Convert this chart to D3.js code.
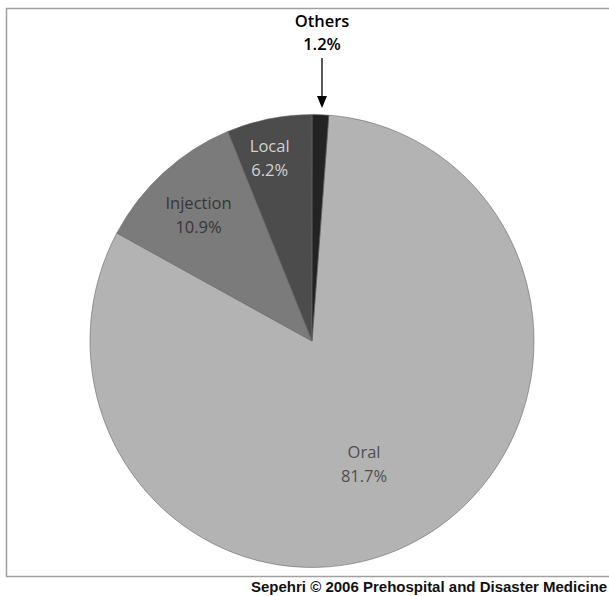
<!DOCTYPE html>
<html>
<head>
<meta charset="utf-8">
<script src="https://cdn.jsdelivr.net/npm/d3@7"></script>
<style>
  body { margin: 0; background: #fff; }
  svg { display: block; }
</style>
</head>
<body>
<div id="wrapper"></div>
<script>
// data
const categories = ["Oral", "Injection", "Local", "Others"];
const percents = [81.7, 10.9, 6.2, 1.2];
const sliceColors = ["#b3b3b3", "#7b7b7b", "#4c4c4c", "#232323"];
const labelColors = ["#4f4f4f", "#363636", "#d2d2d2", "#000000"];

function drawPie() {
  const dimensions = { width: 609, height: 596 };
  const cx = 312, cy = 341, radius = 222;

  const wrapper = d3.select("#wrapper")
    .append("svg")
    .attr("width", dimensions.width)
    .attr("height", dimensions.height);

  // outer frame (right side runs off the page)
  wrapper.append("rect")
    .attr("x", 6.5).attr("y", 8.5)
    .attr("width", 620).attr("height", 568)
    .attr("fill", "none")
    .attr("stroke", "#a0a0a0")
    .attr("stroke-width", 1.5);

  const dataset = categories.map((c, i) => ({ name: c, value: percents[i], i }));

  const start = 0.076;
  const pie = d3.pie()
    .value(d => d.value)
    .sort(null)
    .startAngle(start)
    .endAngle(start + 2 * Math.PI);

  const arcs = pie(dataset);
  const arc = d3.arc().innerRadius(0).outerRadius(radius);

  // the scanned pie is slightly taller than wide
  const bounds = wrapper.append("g")
    .attr("transform", `translate(${cx},${cy}) scale(1,1.02)`);

  bounds.selectAll("path")
    .data(arcs)
    .join("path")
    .attr("d", arc)
    .attr("fill", d => sliceColors[d.data.i])
    .attr("stroke", "#666")
    .attr("stroke-width", 0.6);

  // label anchor: fraction of radius + small angle nudge (degrees)
  const labelRadius = [0.626, 0.745, 0.82];
  const labelShift = [6.6, -1.4, -2.3];

  const labels = wrapper.append("g")
    .attr("font-family", "'Open Sans', sans-serif")
    .attr("font-size", 16.5)
    .attr("text-anchor", "middle");

  arcs.slice(0, 3).forEach(d => {
    const i = d.data.i;
    const r = radius * labelRadius[i];
    const a = (d.startAngle + d.endAngle) / 2 + labelShift[i] * Math.PI / 180;
    const x = cx + r * Math.sin(a);
    const y = cy - r * Math.cos(a);
    const t = labels.append("text").attr("fill", labelColors[i]);
    t.append("tspan").attr("x", x).attr("y", y - 12).text(d.data.name);
    t.append("tspan").attr("x", x).attr("y", y + 12).text(d3.format(".1f")(d.data.value) + "%");
  });

  // "Others" label above the pie with an arrow
  const othersX = 322;
  const other = arcs[3];
  const othersText = labels.append("text")
    .attr("fill", labelColors[3])
    .attr("font-weight", 600);
  othersText.append("tspan").attr("x", othersX).attr("y", 27).text(other.data.name);
  othersText.append("tspan").attr("x", othersX).attr("y", 50).text(d3.format(".1f")(other.data.value) + "%");

  wrapper.append("line")
    .attr("x1", othersX).attr("x2", othersX)
    .attr("y1", 58).attr("y2", 98)
    .attr("stroke", "#000")
    .attr("stroke-width", 1.3);
  wrapper.append("path")
    .attr("d", `M${othersX - 5},96 L${othersX + 5},96 L${othersX},108 Z`)
    .attr("fill", "#000");

  // source line
  wrapper.append("text")
    .attr("x", 251)
    .attr("y", 592)
    .attr("font-family", "'Liberation Sans', Arial, sans-serif")
    .attr("font-size", 15)
    .attr("font-weight", "bold")
    .attr("fill", "#111")
    .text("Sepehri \u00A9 2006 Prehospital and Disaster Medicine");
}

drawPie();
</script>
</body>
</html>
